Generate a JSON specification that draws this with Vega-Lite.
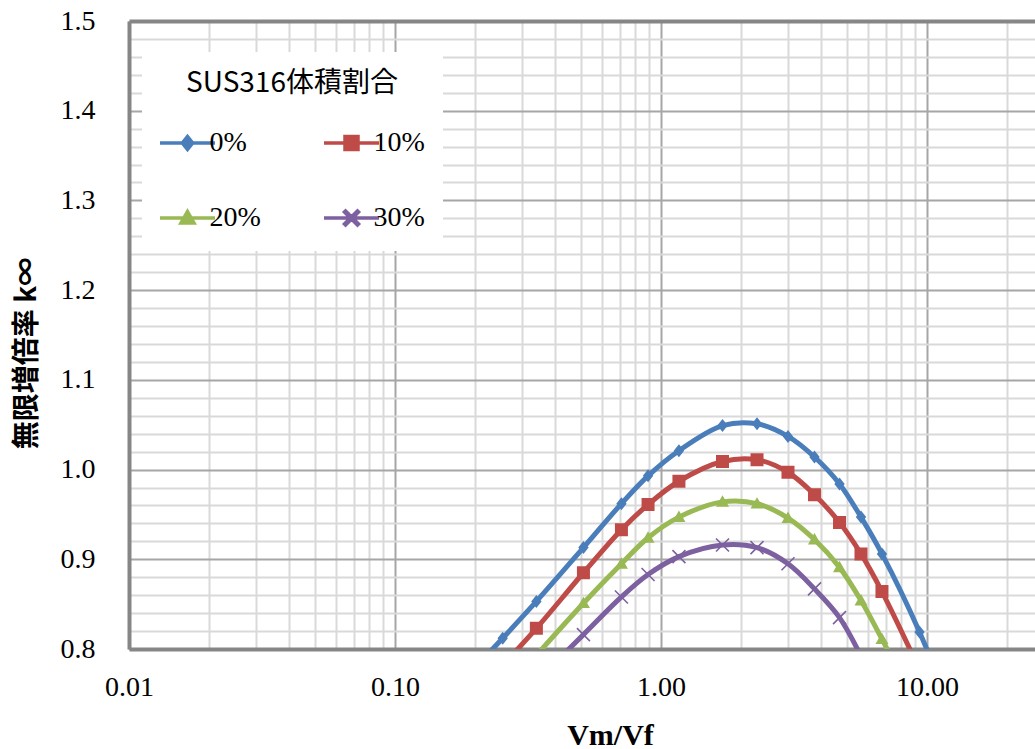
{
  "$schema": "https://vega.github.io/schema/vega-lite/v6.json",
  "width": 906,
  "height": 628,
  "autosize": "none",
  "padding": {"left": 129, "top": 21, "right": 0, "bottom": 100},
  "background": "white",
  "config": {
    "view": {"stroke": null}
  },
  "data": {
    "values": [
      {"ratio": "0%", "vmvf": 0.2, "k": 0.779},
      {"ratio": "0%", "vmvf": 0.254, "k": 0.812},
      {"ratio": "0%", "vmvf": 0.34, "k": 0.853},
      {"ratio": "0%", "vmvf": 0.511, "k": 0.913},
      {"ratio": "0%", "vmvf": 0.71, "k": 0.962},
      {"ratio": "0%", "vmvf": 0.894, "k": 0.993},
      {"ratio": "0%", "vmvf": 1.168, "k": 1.021},
      {"ratio": "0%", "vmvf": 1.703, "k": 1.049},
      {"ratio": "0%", "vmvf": 2.296, "k": 1.051},
      {"ratio": "0%", "vmvf": 3.002, "k": 1.037},
      {"ratio": "0%", "vmvf": 3.776, "k": 1.014},
      {"ratio": "0%", "vmvf": 4.69, "k": 0.984},
      {"ratio": "0%", "vmvf": 5.648, "k": 0.947},
      {"ratio": "0%", "vmvf": 6.772, "k": 0.906},
      {"ratio": "0%", "vmvf": 9.371, "k": 0.819},
      {"ratio": "0%", "vmvf": 12, "k": 0.74},

      {"ratio": "10%", "vmvf": 0.254, "k": 0.782},
      {"ratio": "10%", "vmvf": 0.34, "k": 0.823},
      {"ratio": "10%", "vmvf": 0.511, "k": 0.885},
      {"ratio": "10%", "vmvf": 0.71, "k": 0.933},
      {"ratio": "10%", "vmvf": 0.894, "k": 0.961},
      {"ratio": "10%", "vmvf": 1.168, "k": 0.987},
      {"ratio": "10%", "vmvf": 1.703, "k": 1.009},
      {"ratio": "10%", "vmvf": 2.296, "k": 1.011},
      {"ratio": "10%", "vmvf": 3.002, "k": 0.997},
      {"ratio": "10%", "vmvf": 3.776, "k": 0.972},
      {"ratio": "10%", "vmvf": 4.69, "k": 0.941},
      {"ratio": "10%", "vmvf": 5.648, "k": 0.906},
      {"ratio": "10%", "vmvf": 6.772, "k": 0.864},
      {"ratio": "10%", "vmvf": 9.371, "k": 0.777},

      {"ratio": "20%", "vmvf": 0.34, "k": 0.793},
      {"ratio": "20%", "vmvf": 0.511, "k": 0.851},
      {"ratio": "20%", "vmvf": 0.71, "k": 0.895},
      {"ratio": "20%", "vmvf": 0.894, "k": 0.924},
      {"ratio": "20%", "vmvf": 1.168, "k": 0.947},
      {"ratio": "20%", "vmvf": 1.703, "k": 0.964},
      {"ratio": "20%", "vmvf": 2.296, "k": 0.962},
      {"ratio": "20%", "vmvf": 3.002, "k": 0.946},
      {"ratio": "20%", "vmvf": 3.776, "k": 0.922},
      {"ratio": "20%", "vmvf": 4.69, "k": 0.891},
      {"ratio": "20%", "vmvf": 5.648, "k": 0.854},
      {"ratio": "20%", "vmvf": 6.772, "k": 0.811},
      {"ratio": "20%", "vmvf": 9.371, "k": 0.728},

      {"ratio": "30%", "vmvf": 0.34, "k": 0.764},
      {"ratio": "30%", "vmvf": 0.511, "k": 0.816},
      {"ratio": "30%", "vmvf": 0.71, "k": 0.858},
      {"ratio": "30%", "vmvf": 0.894, "k": 0.883},
      {"ratio": "30%", "vmvf": 1.168, "k": 0.903},
      {"ratio": "30%", "vmvf": 1.703, "k": 0.916},
      {"ratio": "30%", "vmvf": 2.296, "k": 0.913},
      {"ratio": "30%", "vmvf": 3.002, "k": 0.895},
      {"ratio": "30%", "vmvf": 3.776, "k": 0.867},
      {"ratio": "30%", "vmvf": 4.69, "k": 0.835},
      {"ratio": "30%", "vmvf": 5.648, "k": 0.792},
      {"ratio": "30%", "vmvf": 6.772, "k": 0.74}
    ]
  },
  "encoding": {
    "x": {
      "field": "vmvf",
      "type": "quantitative",
      "scale": {"type": "log", "domain": [0.01, 25.47], "nice": false, "zero": false},
      "axis": {
        "values": [0.01, 0.02, 0.03, 0.04, 0.05, 0.06, 0.07, 0.08, 0.09, 0.1, 0.2, 0.3, 0.4, 0.5, 0.6, 0.7, 0.8, 0.9, 1, 2, 3, 4, 5, 6, 7, 8, 9, 10, 20],
        "labelExpr": "abs(log(datum.value)/LN10 - round(log(datum.value)/LN10)) < 1e-6 ? format(datum.value, '.2f') : ''",
        "labelFont": "Liberation Serif, Times New Roman, serif",
        "labelFontSize": 28,
        "labelColor": "black",
        "labelPadding": 24,
        "labelFlush": false,
        "labelOverlap": false,
        "labelBound": false,
        "ticks": false,
        "domainColor": "#868686",
        "domainWidth": 4,
        "grid": true,
        "gridColor": {"condition": {"test": "abs(log(datum.value)/LN10 - round(log(datum.value)/LN10)) < 1e-6", "value": "#a6a6a6"}, "value": "#d9d9d9"},
        "gridWidth": 2,
        "title": "Vm/Vf",
        "titleFont": "Liberation Serif, Times New Roman, serif",
        "titleFontSize": 30,
        "titleFontWeight": "bold",
        "titleColor": "black",
        "titleX": 481,
        "titleY": 86,
        "titleAlign": "center",
        "titleBaseline": "middle"
      }
    },
    "y": {
      "field": "k",
      "type": "quantitative",
      "scale": {"domain": [0.8, 1.5], "nice": false, "zero": false},
      "axis": {
        "values": [0.8, 0.82, 0.84, 0.86, 0.88, 0.9, 0.92, 0.94, 0.96, 0.98, 1, 1.02, 1.04, 1.06, 1.08, 1.1, 1.12, 1.14, 1.16, 1.18, 1.2, 1.22, 1.24, 1.26, 1.28, 1.3, 1.32, 1.34, 1.36, 1.38, 1.4, 1.42, 1.44, 1.46, 1.48, 1.5],
        "labelExpr": "abs(datum.value*10 - round(datum.value*10)) < 1e-6 ? format(datum.value, '.1f') : ''",
        "labelFont": "Liberation Serif, Times New Roman, serif",
        "labelFontSize": 28,
        "labelColor": "black",
        "labelPadding": 34,
        "labelOverlap": false,
        "labelBound": false,
        "ticks": false,
        "domainColor": "#868686",
        "domainWidth": 4,
        "grid": true,
        "gridColor": {"condition": [{"test": "datum.value > 1.499", "value": "#868686"}, {"test": "abs(datum.value*10 - round(datum.value*10)) < 1e-6", "value": "#a6a6a6"}], "value": "#d9d9d9"},
        "gridWidth": {"condition": {"test": "datum.value > 1.499", "value": 4}, "value": 2},
        "title": "無限増倍率 k∞",
        "titleFont": "Noto Sans CJK JP",
        "titleFontSize": 28,
        "titleFontWeight": "bold",
        "titleColor": "black",
        "titleAngle": 270,
        "titleX": -102,
        "titleY": 332,
        "titleAlign": "center",
        "titleBaseline": "middle"
      }
    },
    "color": {
      "field": "ratio",
      "type": "nominal",
      "scale": {"domain": ["0%", "10%", "20%", "30%"], "range": ["#4A7EBB", "#BE4B48", "#98B954", "#7D60A0"]},
      "legend": {
        "title": "SUS316体積割合",
        "orient": "none",
        "legendX": 13,
        "legendY": 31,
        "direction": "horizontal",
        "columns": 2,
        "fillColor": "white",
        "padding": 18,
        "titleFont": "Noto Sans CJK JP",
        "titleFontSize": 28,
        "titleFontWeight": "normal",
        "titleColor": "black",
        "titleAnchor": "middle",
        "titleLimit": 600,
        "titlePadding": 31,
        "symbolSize": 169,
        "symbolStrokeWidth": 3.5,
        "symbolOpacity": 1,
        "symbolOffset": 13.5,
        "rowPadding": 46,
        "columnPadding": 56,
        "labelFont": "Liberation Serif, Times New Roman, serif",
        "labelFontSize": 28,
        "labelColor": "black",
        "labelOffset": 8
      }
    }
  },
  "layer": [
    {
      "mark": {"type": "line", "interpolate": "catmull-rom", "strokeWidth": 5, "clip": true}
    },
    {
      "mark": {"type": "point", "filled": true, "opacity": 1, "size": 169, "clip": true},
      "encoding": {
        "shape": {
          "field": "ratio",
          "type": "nominal",
          "scale": {
            "domain": ["0%", "10%", "20%", "30%"],
            "range": [
              "M-4.23,0H4.23 M0,-1L0.8,0L0,1L-0.8,0Z",
              "M-4.23,0H4.23 M-1,-1H1V1H-1Z",
              "M-4.23,0H4.23 M0,-1L1,0.75H-1Z",
              "M-4.23,0H4.23 M-0.915,-1.085L1.085,0.915L0.915,1.085L-1.085,-0.915Z M-0.915,1.085L-1.085,0.915L0.915,-1.085L1.085,-0.915Z"
            ]
          },
          "legend": null
        }
      }
    }
  ]
}
